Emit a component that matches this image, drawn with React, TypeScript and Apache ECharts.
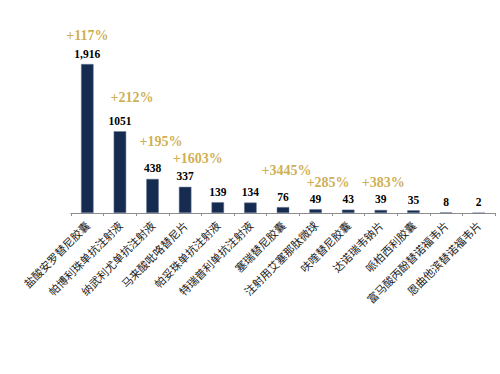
import React, { useEffect, useRef } from "react";
import * as echarts from "echarts";

const categories = [
  "盐酸安罗替尼胶囊",
  "帕博利珠单抗注射液",
  "纳武利尤单抗注射液",
  "马来酸吡咯替尼片",
  "帕妥珠单抗注射液",
  "特瑞普利单抗注射液",
  "塞瑞替尼胶囊",
  "注射用艾塞那肽微球",
  "呋喹替尼胶囊",
  "达诺瑞韦钠片",
  "哌柏西利胶囊",
  "富马酸丙酚替诺福韦片",
  "恩曲他滨替诺福韦片",
];
const values = [1916, 1051, 438, 337, 139, 134, 76, 49, 43, 39, 35, 8, 2];
const valueLabels = ["1,916", "1051", "438", "337", "139", "134", "76", "49", "43", "39", "35", "8", "2"];
const growthLabels: (string | null)[] = [
  "+117%", "+212%", "+195%", "+1603%", null, null, "+3445%", "+285%", null, "+383%", null, null, null,
];
// label offsets (style): [dx, dy] from the bar top
const growthOffsets: [number, number][] = [
  [0, -28.5], [12, -34], [8.5, -37], [12.5, -28.5], [0, 0], [0, 0], [3.5, -37], [12.5, -27], [0, 0], [2.5, -27.5], [0, 0], [0, 0], [0, 0],
];

export default function App() {
  const ref = useRef<HTMLDivElement>(null);
  useEffect(() => {
    if (!ref.current) return;
    const chart = echarts.init(ref.current, null, { renderer: "svg" });
    const growthData = values
      .map((v, i) =>
        growthLabels[i]
          ? {
              value: [i, v],
              label: {
                show: true,
                position: "inside",
                offset: growthOffsets[i],
                formatter: growthLabels[i] as string,
              },
            }
          : null
      )
      .filter((d) => d !== null);
    chart.setOption({
      animation: false,
      backgroundColor: "#ffffff",
      grid: { left: 71, right: 5, top: 57.5, bottom: 161, containLabel: false },
      xAxis: {
        type: "category",
        data: categories,
        boundaryGap: true,
        axisLine: { show: true, lineStyle: { color: "#8c8c8c", width: 1 } },
        axisTick: { show: true, alignWithLabel: false, length: 3, lineStyle: { color: "#8c8c8c" } },
        axisLabel: {
          interval: 0,
          rotate: 45,
          margin: 10,
          fontFamily: "Noto Sans CJK SC",
          fontSize: 11,
          color: "#1a1a1a",
        },
      },
      yAxis: {
        type: "value",
        min: 0,
        max: 2000,
        show: false,
        splitLine: { show: false },
      },
      series: [
        {
          type: "bar",
          data: values,
          barWidth: 12.5,
          itemStyle: { color: "#152b4f", borderColor: "#6b7c99", borderWidth: 0.5 },
          label: {
            show: true,
            position: "top",
            distance: 4.5,
            formatter: (p: any) => valueLabels[p.dataIndex],
            fontFamily: "Liberation Serif",
            fontWeight: "bold",
            fontSize: 11.5,
            color: "#000000",
          },
        },
        {
          type: "scatter",
          symbolSize: 0,
          data: growthData,
          silent: true,
          label: {
            show: true,
            fontFamily: "Liberation Serif",
            fontWeight: "bold",
            fontSize: 14,
            color: "#c29a26",
          },
        },
      ],
    });
    return () => chart.dispose();
  }, []);
  return (
    <div
      ref={ref}
      style={{ position: "fixed", left: 0, top: 0, width: 500, height: 374, background: "#fff" }}
    />
  );
}
